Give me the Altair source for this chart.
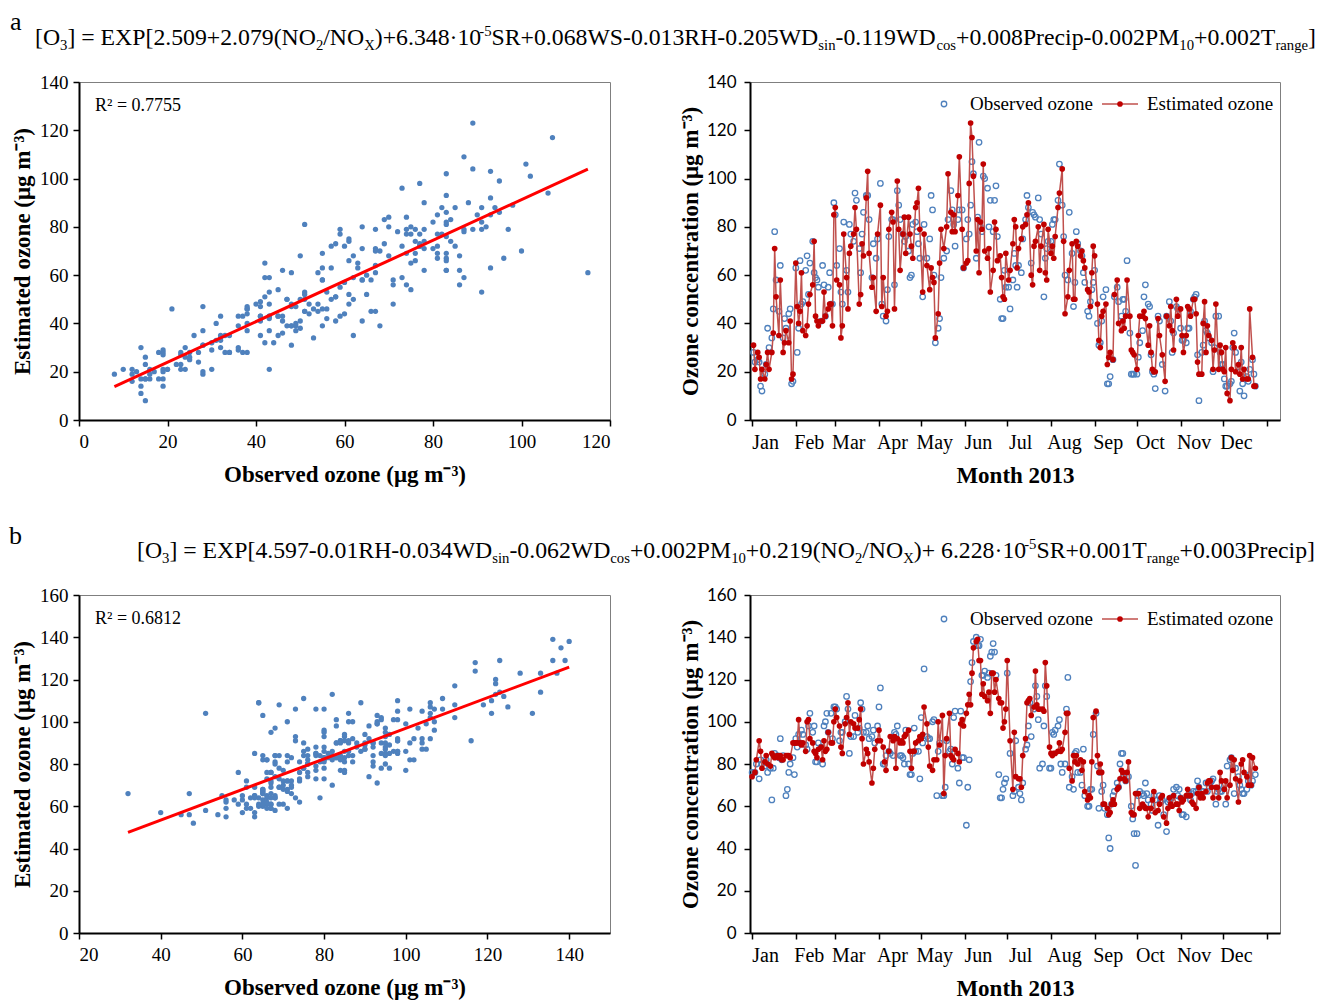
import altair as alt
import pandas as pd

# ---------------- data ----------------
MONTH_STARTS = [1, 32, 60, 91, 121, 152, 182, 213, 244, 274, 305, 335, 366]

# Panel a : day of year, estimated and observed ozone
days_a = [2,3,5,6,7,8,10,11,12,13,15,16,17,18,20,21,23,24,25,27,28,29,30,
          32,33,34,35,36,37,39,40,41,42,44,45,46,47,48,50,51,52,53,55,56,57,58,59,
          60,61,63,64,65,66,68,69,70,71,73,74,75,77,78,79,80,82,83,84,86,87,89,90,
          92,93,94,96,97,98,100,101,102,104,105,106,108,109,110,112,113,114,115,117,118,119,120,
          122,123,125,127,128,129,130,131,133,134,135,137,139,140,142,143,144,145,147,148,150,151,
          153,154,155,156,157,158,160,161,162,163,164,165,166,168,169,170,172,173,174,175,177,178,179,180,181,
          183,184,186,187,188,189,190,192,193,195,196,197,199,200,201,202,204,205,206,208,209,210,211,
          213,214,215,216,218,219,221,222,223,225,226,228,229,230,231,232,234,235,236,237,239,240,241,242,243,
          244,246,247,248,249,250,252,253,254,255,257,258,260,261,263,264,265,266,267,269,270,271,272,
          274,275,276,278,279,280,282,283,284,285,286,287,289,290,292,294,295,297,298,299,300,302,303,
          305,306,307,309,310,311,312,314,315,316,317,318,320,321,322,323,324,325,327,328,329,330,332,333,334,
          335,336,337,338,340,341,342,343,344,346,347,348,349,350,352,353,354,356,357,358]
est_a = [31,21,28,26,17,21,17,23,28,21,28,36,71,51,35,58,28,32,37,32,41,17,19,
         65,47,40,45,61,37,35,39,48,52,56,74,43,41,39,41,41,53,43,46,48,48,39,85,
         88,58,56,34,39,77,59,46,69,72,77,88,79,48,52,73,68,92,103,69,55,59,45,77,
         89,47,59,43,45,79,86,82,46,99,79,62,77,84,69,84,77,72,67,88,90,96,79,
         53,77,64,54,63,59,57,34,44,65,79,71,80,102,86,78,85,78,93,109,79,63,
         65,66,98,123,117,101,70,83,61,82,79,106,70,67,71,53,62,82,79,66,68,59,51,50,69,
         58,62,73,83,80,63,71,75,80,81,85,90,60,56,72,74,80,62,72,81,61,58,79,
         69,72,67,76,88,94,104,74,44,51,62,73,50,50,74,72,68,70,66,63,54,53,47,61,72,
         68,48,33,30,43,45,48,23,26,28,25,52,58,40,37,41,38,43,58,43,29,28,27,
         21,35,43,43,45,42,31,39,28,21,20,20,42,35,27,16,43,39,47,37,29,50,43,
         46,35,28,35,47,46,43,50,50,44,24,19,19,40,49,28,39,35,33,21,29,48,21,31,28,
         21,20,30,11,8,21,32,30,20,23,19,30,17,21,17,17,46,26,14,14]
obs_a = [28,24,25,24,14,12,19,23,38,30,34,46,78,58,45,64,34,42,38,44,46,15,16,
         63,28,38,66,48,49,62,68,52,65,74,61,59,58,55,41,64,56,43,55,61,48,48,90,
         85,64,71,53,48,82,62,53,81,77,74,94,91,71,61,77,86,93,93,83,59,73,67,75,
         98,48,43,41,54,76,83,83,56,95,89,83,77,74,76,70,59,60,81,82,78,73,67,
         51,81,67,75,93,87,60,32,38,42,59,67,70,83,95,87,81,72,83,87,87,63,
         75,83,77,89,107,102,67,84,115,80,78,101,100,96,80,91,78,91,97,76,50,42,42,62,55,
         55,46,58,69,64,55,64,61,75,83,93,88,65,86,85,84,92,83,77,51,67,71,74,
         74,81,83,83,91,106,89,76,60,58,86,69,47,57,78,73,70,68,61,57,45,43,49,54,57,
         62,40,31,32,41,51,54,15,15,18,25,51,55,49,43,50,50,45,66,36,19,19,19,
         19,26,32,37,51,56,48,47,27,20,19,13,43,41,23,12,43,49,41,28,36,47,46,
         38,33,33,32,38,38,45,50,51,52,27,8,28,31,41,37,36,34,32,20,30,43,43,28,23,
         23,17,14,14,15,16,30,36,28,22,12,24,15,10,18,16,21,25,19,14]

# Panel b
days_b = [1,3,4,6,7,8,10,11,12,14,15,16,17,19,20,21,22,23,25,26,27,28,30,31,
          32,33,34,35,36,37,39,40,41,42,44,45,46,47,48,50,51,52,53,54,55,57,58,59,
          60,61,63,64,65,67,68,69,70,71,73,74,76,77,78,79,80,82,83,84,86,87,88,90,
          91,92,94,95,96,98,99,101,102,103,104,106,107,108,109,110,112,113,114,115,116,117,119,120,
          121,122,123,125,126,127,129,130,132,133,134,136,137,138,139,141,142,143,144,145,147,148,149,150,151,
          153,154,155,156,157,158,160,161,162,163,164,165,166,168,169,170,171,172,173,174,176,177,178,179,180,181,
          182,184,186,187,188,190,191,192,193,195,196,197,198,199,201,202,203,204,205,207,208,209,210,212,
          213,214,215,216,218,219,220,221,223,224,225,226,228,229,230,231,232,234,235,236,237,239,240,241,242,243,
          245,246,247,248,249,250,251,253,254,255,256,257,258,260,261,262,263,264,265,266,267,268,270,271,272,273,
          274,275,276,278,279,280,281,282,284,285,286,287,289,290,291,292,293,295,296,297,298,299,300,302,303,304,
          305,306,307,309,310,311,312,313,314,316,317,318,319,320,321,323,324,325,326,327,328,330,331,332,333,334,
          336,337,338,340,341,342,343,344,346,347,348,349,350,352,353,354,355,356,358]
est_b = [74,76,82,91,86,78,81,84,80,79,85,84,83,84,83,84,82,82,84,84,84,83,90,90,
         90,90,101,90,89,90,86,100,101,92,90,86,85,83,87,88,82,91,86,87,95,90,90,100,
         106,102,98,88,85,99,102,109,94,100,99,97,97,101,106,92,80,87,85,81,71,78,87,91,
         96,91,88,81,77,86,93,91,93,78,92,90,91,90,93,94,96,86,78,86,86,90,91,93,
         92,94,107,99,88,79,77,82,82,100,89,103,66,84,92,104,84,83,82,87,85,81,99,101,98,
         104,108,113,108,123,135,138,139,129,129,113,118,112,110,114,104,123,123,114,120,111,109,109,97,100,106,
         129,91,68,95,74,73,73,69,84,92,109,110,111,103,107,124,108,106,106,106,105,128,117,88,
         85,84,85,85,86,90,86,87,95,104,104,78,72,84,81,84,80,82,77,81,67,63,65,64,81,102,
         105,84,76,80,76,61,61,59,56,57,61,63,61,68,69,73,77,76,73,72,76,81,57,56,56,66,
         66,66,59,61,60,59,59,55,59,63,67,57,58,61,64,65,55,52,59,64,61,60,65,61,61,58,
         64,62,63,65,68,65,65,62,61,59,66,69,64,66,64,67,71,72,72,69,64,69,69,64,76,72,
         68,72,64,70,83,77,82,73,62,72,80,82,76,74,70,84,70,83,78]
obs_b = [76,76,80,73,82,80,79,82,76,78,63,78,85,84,83,92,82,84,65,68,76,80,83,75,
         92,88,94,90,96,94,89,87,98,104,95,98,81,81,90,88,80,98,100,104,95,104,92,107,
         107,106,91,95,95,100,112,106,85,93,93,103,95,97,109,106,95,95,98,92,93,96,90,98,
         107,116,80,80,84,86,85,84,95,94,98,84,84,83,80,96,80,75,75,85,97,86,86,73,
         102,90,125,93,92,92,100,101,65,86,90,65,65,69,91,86,87,80,102,105,78,71,105,83,83,
         51,69,82,119,128,138,140,136,136,139,122,122,124,121,123,131,133,137,133,122,75,64,64,68,71,73,
         123,85,65,67,91,69,66,63,71,87,89,98,109,93,106,117,112,101,78,80,98,117,112,78,
         78,95,94,96,98,101,80,76,80,106,121,69,74,68,85,86,76,76,70,87,65,60,60,68,68,94,
         104,79,59,76,67,70,59,56,45,40,61,65,67,71,69,80,85,85,74,72,74,74,60,54,47,32,
         47,65,67,66,65,71,66,63,61,58,65,63,51,65,62,63,56,48,62,63,64,64,68,69,65,68,
         64,56,56,55,65,66,63,66,67,67,72,69,66,67,67,71,67,71,71,72,73,61,67,68,67,67,
         70,61,79,82,83,78,66,78,74,70,68,66,66,68,72,75,70,72,75]

SCATTER_A_X = [0, 20, 40, 60, 80, 100, 120]
SCATTER_A_Y = [0, 20, 40, 60, 80, 100, 120, 140]
SCATTER_B_X = [20, 40, 60, 80, 100, 120, 140]
SCATTER_B_Y = [0, 20, 40, 60, 80, 100, 120, 140, 160]

EQ_A = [("[O", 0), ("3", -1), ("] = EXP[2.509+2.079(NO", 0), ("2", -1), ("/NO", 0), ("X", -1),
        (")+6.348·10", 0), ("-5", 1), ("SR+0.068WS-0.013RH-0.205WD", 0), ("sin", -1),
        ("-0.119WD", 0), ("cos", -1), ("+0.008Precip-0.002PM", 0), ("10", -1),
        ("+0.002T", 0), ("range", -1), ("]", 0)]
EQ_B = [("[O", 0), ("3", -1), ("] = EXP[4.597-0.01RH-0.034WD", 0), ("sin", -1),
        ("-0.062WD", 0), ("cos", -1), ("+0.002PM", 0), ("10", -1), ("+0.219(NO", 0), ("2", -1),
        ("/NO", 0), ("X", -1), (")+ 6.228·10", 0), ("-5", 1), ("SR+0.001T", 0), ("range", -1),
        ("+0.003Precip]", 0)]

# ---------------- styling ----------------
SERIF = "Liberation Serif"
SANS = "Lato"
BLUE = "#4F81BD"
DOT_RED = "#C00000"
LINE_RED = "#C0504D"
UNIT = "(μg m⁻³)"

TIMES_W = {"[": .333, "]": .333, "(": .333, ")": .333, "=": .564, "+": .564, "-": .333,
           "/": .278, ".": .25, " ": .25, "·": .25, "E": .611, "X": .722, "P": .556,
           "O": .722, "N": .722, "S": .556, "R": .667, "W": .944, "H": .722, "D": .722,
           "M": .889, "T": .611, "s": .389, "i": .278, "n": .5, "c": .444, "o": .5,
           "r": .333, "e": .444, "p": .5, "a": .444, "g": .5}


def tw(s):
    return sum(TIMES_W.get(ch, 0.5) for ch in s)


def one():
    return alt.Data(values=[{"k": 0}])


def label(txt, x, y, size, font=SERIF, align="left", baseline="alphabetic", weight="normal"):
    return alt.Chart(one()).mark_text(text=txt, font=font, fontSize=size, align=align,
                                      baseline=baseline, fontWeight=weight, color="black").encode(
        x=alt.value(x), y=alt.value(y))


def rich(segments, start, end, baseline):
    small = 0.62
    em = sum(tw(t) * (1 if k == 0 else small) for t, k in segments)
    size = (end - start) / em
    out, x = [], start
    for t, k in segments:
        fs = size * (1 if k == 0 else small)
        y = baseline + (0 if k == 0 else (0.22 * size if k < 0 else -0.36 * size))
        out.append(label(t, x, y, fs))
        x += tw(t) * fs
    return out


W, H = 531, 338


def scatter(df, xdom, xvals, ydom, yvals, r2, extra):
    xenc = alt.X("obs:Q", scale=alt.Scale(domain=xdom, nice=False, zero=False),
                 axis=alt.Axis(values=xvals, title="Observed ozone " + UNIT,
                               titlePadding=12, labelPadding=6, labelFontSize=19))
    yenc = alt.Y("est:Q", scale=alt.Scale(domain=ydom, nice=False, zero=False),
                 axis=alt.Axis(values=yvals, title="Estimated ozone " + UNIT,
                               titlePadding=5, labelPadding=5, labelFontSize=19))
    pts = alt.Chart(df).mark_circle(size=28, color=BLUE, opacity=1).encode(x=xenc, y=yenc)
    fit = alt.Chart(df).transform_regression("obs", "est").mark_line(
        color="#FF0000", strokeWidth=3).encode(x=xenc, y=yenc)
    r2t = label(r2, 16, 29, 18)
    return alt.layer(pts, fit, r2t, *extra).properties(width=W, height=H)


def timeseries(df, ydom, yvals, ly):
    xenc = alt.X("day:Q", scale=alt.Scale(domain=[-0.5, 375.5], nice=False, zero=False),
                 axis=alt.Axis(values=MONTH_STARTS, title="Month 2013", labelOverlap=False,
                               labelExpr="datum.value > 365 ? '' : timeFormat(datetime(2013, 0, datum.value), '%b')",
                               labelOffset=13, labelAlign="center", labelFlush=False,
                               labelPadding=6, titlePadding=12))

    def yenc(field):
        return alt.Y(field + ":Q", scale=alt.Scale(domain=ydom, nice=False, zero=False),
                     axis=alt.Axis(values=yvals, title="Ozone concentration " + UNIT,
                                   labelFont=SANS, labelFontSize=17, labelPadding=8,
                                   titlePadding=4))

    obs = alt.Chart(df).mark_point(shape="circle", filled=False, color=BLUE, size=30,
                                   strokeWidth=1.3, opacity=1).encode(x=xenc, y=yenc("obs"))
    line = alt.Chart(df).mark_line(color=LINE_RED, strokeWidth=1.5).encode(x=xenc, y=yenc("est"))
    dots = alt.Chart(df).mark_circle(color=DOT_RED, size=32, opacity=1).encode(x=xenc, y=yenc("est"))
    leg_c = alt.Chart(one()).mark_point(shape="circle", filled=False, color=BLUE, size=30,
                                        strokeWidth=1.3, opacity=1).encode(
        x=alt.value(194), y=alt.value(ly))
    leg_t1 = label("Observed ozone", 220, ly, 19, baseline="middle")
    leg_r = alt.Chart(one()).mark_rule(color=LINE_RED, strokeWidth=1.5).encode(
        x=alt.value(352), x2=alt.value(388), y=alt.value(ly))
    leg_d = alt.Chart(one()).mark_circle(color=DOT_RED, size=32, opacity=1).encode(
        x=alt.value(370), y=alt.value(ly))
    leg_t2 = label("Estimated ozone", 397, ly, 19, baseline="middle")
    return alt.layer(obs, line, dots, leg_c, leg_t1, leg_r, leg_d, leg_t2).properties(width=530, height=H)


df_a = pd.DataFrame({"day": days_a, "obs": obs_a, "est": est_a})
df_b = pd.DataFrame({"day": days_b, "obs": obs_b, "est": est_b})

head_a = [label("a", -69, -52, 26)] + rich(EQ_A, -44, 1237, -37)
head_b = [label("b", -70, -51, 26)] + rich(EQ_B, 58, 1236, -37)

sa = scatter(df_a, [0, 120], SCATTER_A_X, [0, 140], SCATTER_A_Y, "R² = 0.7755", head_a)
ta = timeseries(df_a, [0, 140], SCATTER_A_Y, 22)
sb = scatter(df_b, [20, 150], SCATTER_B_X, [0, 160], SCATTER_B_Y, "R² = 0.6812", head_b)
tb = timeseries(df_b, [0, 160], SCATTER_B_Y, 24)

chart = alt.concat(sa, ta, sb, tb, columns=2, spacing={"row": 175, "column": 140},
                   bounds="flush").properties(padding=0).configure_view(
    stroke="#7f7f7f", strokeWidth=1).configure_axis(
    grid=False, domainColor="black", domainWidth=2, tickColor="black", tickWidth=1.5,
    tickSize=6, labelColor="black", titleColor="black", labelFont=SERIF, labelFontSize=20,
    titleFont=SERIF, titleFontSize=23, titleFontWeight="bold")

chart.save("out.html", embed_options={"renderer": "svg", "actions": False})
